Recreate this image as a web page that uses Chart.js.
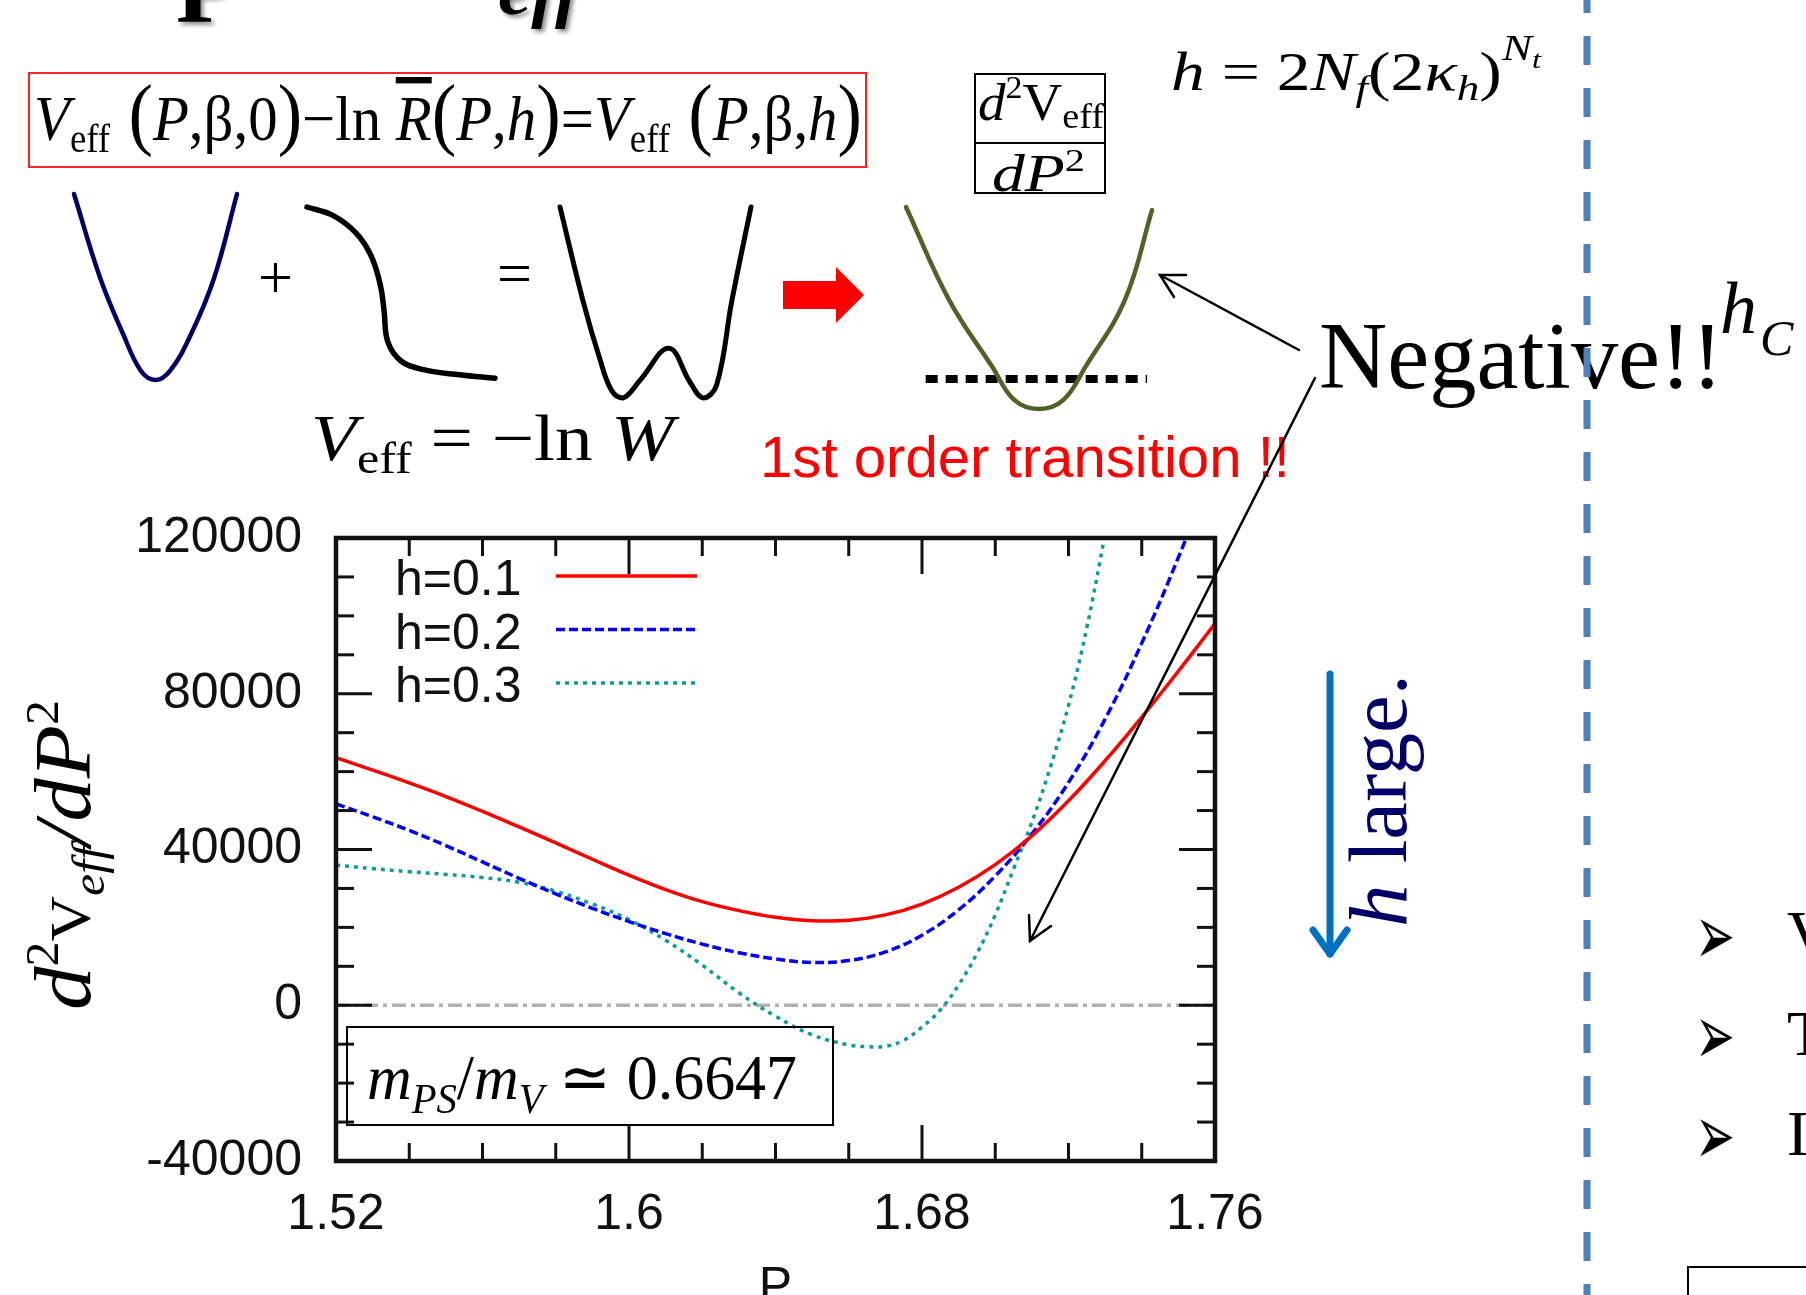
<!DOCTYPE html>
<html>
<head>
<meta charset="utf-8">
<script src="https://cdn.jsdelivr.net/npm/chart.js@4.4.1/dist/chart.umd.min.js"></script>
<style>
  html, body { margin: 0; padding: 0; background: #fff; }
  body { width: 1806px; height: 1295px; overflow: hidden; position: relative; }
  .box { position: absolute; }
  #overlay { position: absolute; left: 0; top: 0; pointer-events: none; }
</style>
</head>
<body>
<div class="box" style="left:0;top:440px;width:1300px;height:900px"><canvas id="mainChart"></canvas></div>
<div class="box"><canvas id="sketchBlue"></canvas></div>
<div class="box"><canvas id="sketchStep"></canvas></div>
<div class="box"><canvas id="sketchDouble"></canvas></div>
<div class="box"><canvas id="sketchGreen"></canvas></div>

<svg id="overlay" xmlns="http://www.w3.org/2000/svg" width="1806" height="1295">
  <defs>
    <filter id="shadow"><feDropShadow dx="3" dy="3" stdDeviation="2" flood-opacity="0.45"/></filter>
  </defs>
  <g font-family="Liberation Serif, Times New Roman, serif" fill="#000">
    <!-- bottom of the slide title -->
    <text x="176" y="22" font-size="96" font-weight="bold" filter="url(#shadow)">P</text>
    <text x="498" y="14" font-size="72" font-weight="bold" font-style="italic" textLength="82" lengthAdjust="spacingAndGlyphs" filter="url(#shadow)">eff</text>

    <!-- boxed relation -->
    <rect x="29" y="73" width="837" height="94" fill="none" stroke="#ff2020" stroke-width="2"/>
    <text x="34" y="140" font-size="64" textLength="828" lengthAdjust="spacingAndGlyphs"><tspan font-style="italic">V</tspan><tspan font-size="40" dy="12">eff</tspan><tspan dy="-12" font-size="80"> (</tspan><tspan font-style="italic">P</tspan><tspan>,β,0</tspan><tspan font-size="80">)</tspan><tspan>−ln </tspan><tspan font-style="italic" style="text-decoration:overline">R</tspan><tspan font-size="80">(</tspan><tspan font-style="italic">P</tspan><tspan>,</tspan><tspan font-style="italic">h</tspan><tspan font-size="80">)</tspan><tspan>=</tspan><tspan font-style="italic">V</tspan><tspan font-size="40" dy="12">eff</tspan><tspan dy="-12" font-size="80"> (</tspan><tspan font-style="italic">P</tspan><tspan>,β,</tspan><tspan font-style="italic">h</tspan><tspan font-size="80">)</tspan></text>

    <text x="258" y="298" font-size="62">+</text>
    <text x="497" y="294" font-size="62">=</text>

    <text x="311" y="460" font-size="66" textLength="363" lengthAdjust="spacingAndGlyphs"><tspan font-style="italic">V</tspan><tspan font-size="44" dy="13">eff</tspan><tspan dy="-13"> = −ln </tspan><tspan font-style="italic">W</tspan></text>

    <!-- red block arrow -->
    <polygon points="783,281 836,281 836,267 864,295 836,323 836,309 783,309" fill="#ff0000"/>

    <!-- fraction box -->
    <rect x="975" y="74" width="130" height="69" fill="none" stroke="#000" stroke-width="2"/>
    <rect x="975" y="143" width="130" height="50" fill="none" stroke="#000" stroke-width="2"/>
    <text x="978" y="120" font-size="52" textLength="126" lengthAdjust="spacingAndGlyphs"><tspan font-style="italic">d</tspan><tspan font-size="32" dy="-22">2</tspan><tspan dy="22">V</tspan><tspan font-size="36" dy="8">eff</tspan></text>
    <text x="992" y="191" font-size="52" textLength="93" lengthAdjust="spacingAndGlyphs"><tspan font-style="italic">dP</tspan><tspan font-size="32" dy="-20">2</tspan></text>

    <text x="1171" y="90" font-size="54" textLength="370" lengthAdjust="spacingAndGlyphs"><tspan font-style="italic">h</tspan><tspan> = 2</tspan><tspan font-style="italic">N</tspan><tspan font-style="italic" font-size="36" dy="10">f</tspan><tspan dy="-10">(2</tspan><tspan font-style="italic">κ</tspan><tspan font-style="italic" font-size="36" dy="10">h</tspan><tspan dy="-10">)</tspan><tspan font-style="italic" font-size="36" dy="-30">N</tspan><tspan font-style="italic" font-size="26" dy="8">t</tspan></text>

    <text x="760" y="477" font-family="Liberation Sans, Arial, sans-serif" font-size="57" fill="#ff0000" textLength="530" lengthAdjust="spacingAndGlyphs">1st order transition !!</text>

    <text x="1319" y="388" font-size="96" textLength="404" lengthAdjust="spacingAndGlyphs">Negative!!</text>
    <text x="1720" y="333" font-size="74" font-style="italic">h</text>
    <text x="1760" y="355" font-size="50" font-style="italic">C</text>

    <!-- pointer arrows -->
    <g stroke="#000" stroke-width="2.5" fill="none" stroke-linecap="round">
      <line x1="1299" y1="350" x2="1160" y2="275"/>
      <polyline points="1174,297 1160,275 1186,275"/>
      <line x1="1315" y1="378" x2="1030" y2="941"/>
      <polyline points="1051,926 1030,941 1029,915"/>
    </g>

    <!-- divider -->
    <line x1="1587" y1="0" x2="1587" y2="1295" stroke="#4f81bd" stroke-width="7" stroke-dasharray="29 23" stroke-dashoffset="16"/>

    <!-- h large arrow -->
    <g stroke="#0070c0" stroke-width="7" fill="none" stroke-linecap="round" stroke-linejoin="round">
      <line x1="1330" y1="674" x2="1330" y2="954"/>
      <polyline points="1313,930 1330,954 1347,930"/>
    </g>
    <text transform="rotate(-90 1406 927)" x="1406" y="927" font-size="83" fill="#000066" textLength="253" lengthAdjust="spacingAndGlyphs"><tspan font-style="italic">h</tspan><tspan> large.</tspan></text>

    <!-- y axis title -->
    <text transform="rotate(-90 90 1010)" x="90" y="1010" font-size="80" textLength="310" lengthAdjust="spacingAndGlyphs"><tspan font-style="italic">d</tspan><tspan font-size="46" dy="-32">2</tspan><tspan font-size="58" dy="32">V</tspan><tspan font-style="italic" font-size="46" dy="14">eff</tspan><tspan font-style="italic" dy="-14">/dP</tspan><tspan font-size="46" dy="-32">2</tspan></text>

    <!-- mass ratio box -->
    <rect x="347" y="1027" width="486" height="98" fill="none" stroke="#000" stroke-width="2"/>
    <text x="367" y="1099" font-size="64" textLength="430" lengthAdjust="spacingAndGlyphs"><tspan font-style="italic">m</tspan><tspan font-style="italic" font-size="42" dy="14">PS</tspan><tspan dy="-14">/</tspan><tspan font-style="italic">m</tspan><tspan font-style="italic" font-size="42" dy="14">V</tspan><tspan dy="-14"> ≃ 0.6647</tspan></text>

    <!-- bullets at the right edge -->
    <g font-family="DejaVu Sans, sans-serif" font-size="84">
      <text x="1695" y="964" textLength="40" lengthAdjust="spacingAndGlyphs">➢</text>
      <text x="1695" y="1064" textLength="40" lengthAdjust="spacingAndGlyphs">➢</text>
      <text x="1695" y="1164" textLength="40" lengthAdjust="spacingAndGlyphs">➢</text>
    </g>
    <text x="1787" y="955" font-size="64">V</text>
    <text x="1787" y="1055" font-size="64">T</text>
    <text x="1787" y="1155" font-size="64">I</text>
    <rect x="1688" y="1267" width="200" height="80" fill="none" stroke="#000" stroke-width="2"/>
  </g>
</svg>

<script>
// P values (x axis) and the curves
const pValues = [1.52, 1.53, 1.54, 1.55, 1.56, 1.57, 1.58, 1.59, 1.60, 1.61, 1.62, 1.63, 1.64,
                 1.65, 1.66, 1.67, 1.68, 1.69, 1.70, 1.71, 1.72, 1.73, 1.74, 1.75, 1.76];
const h01 = [63600, 60400, 57100, 53600, 49800, 45800, 41700, 37500, 33400, 29700, 26600, 24300, 22600,
             21700, 21800, 23200, 26000, 30300, 36100, 43500, 52500, 62800, 74000, 85800, 98000];
const h02 = [51700, 48400, 44900, 41000, 36800, 32600, 28600, 24900, 21500, 18400, 15700, 13500, 11900,
             11000, 11500, 13700, 18000, 24500, 33200, 44000, 57200, 73500, 93000, 115000, 139000];
// h=0.3 is sampled more finely around its dip
const h03P = [1.52, 1.53, 1.54, 1.55, 1.56, 1.57, 1.58, 1.59, 1.60, 1.61, 1.62, 1.63, 1.64, 1.65, 1.66,
              1.665, 1.67, 1.675, 1.68, 1.685, 1.69, 1.695, 1.70, 1.705, 1.71, 1.715, 1.72, 1.725, 1.73, 1.735];
const h03 = [36000, 35100, 34300, 33600, 32800, 31600, 29300, 26000, 22000, 16700, 10300, 3200, -2800, -7600, -10200,
             -10650, -10550, -9000, -5600, -1200, 5200, 13300, 23200, 35000, 47000, 61000, 77000, 97000, 121000, 146000];
const seriesLabels = ['h=0.1', 'h=0.2', 'h=0.3'];
const zeroP = [1.52, 1.76];
const zeroV = [0, 0];

const xTicks = [1.52, 1.6, 1.68, 1.76];
const yTicks = [-40000, 0, 40000, 80000, 120000];
const xMinorStep = 0.02;
const yMinorStep = 10000;

// the little sketches (unit box, y up)
const blueWellX = [0, 0.16, 0.30, 0.41, 0.5, 0.59, 0.72, 0.86, 1];
const blueWellY = [1, 0.55, 0.25, 0.05, 0, 0.05, 0.25, 0.55, 1];
const stepX = [0, 0.14, 0.26, 0.34, 0.39, 0.41, 0.43, 0.5, 0.62, 0.81, 1];
const stepY = [1, 0.95, 0.85, 0.72, 0.55, 0.40, 0.22, 0.11, 0.06, 0.03, 0.01];
const doubleX = [0, 0.12, 0.21, 0.27, 0.33, 0.42, 0.57, 0.68, 0.75, 0.82, 0.9, 1];
const doubleY = [1, 0.51, 0.20, 0.04, 0, 0.094, 0.26, 0.084, 0, 0.068, 0.51, 1];
const greenX = [0, 0.175, 0.35, 0.44, 0.54, 0.64, 0.73, 0.89, 1];
const greenY = [1, 0.54, 0.21, 0.045, 0, 0.045, 0.21, 0.54, 0.985];
const levelX = [0.08, 0.98];
const levelY = [0.149, 0.149];

const ink = '#111';
const sansFont = { family: '"Liberation Sans", Arial, sans-serif', size: 50 };

function toPoints(xs, ys) {
  return ys.map((y, i) => ({ x: xs[i], y: y }));
}

// gnuplot-like frame: inward ticks on all four sides + legend with samples on the right
const gnuFrame = {
  id: 'gnuFrame',
  afterDatasetsDraw(chart) {
    const { ctx, chartArea: a, scales: { x, y } } = chart;
    ctx.save();
    ctx.strokeStyle = ink;
    ctx.lineWidth = 3;
    ctx.setLineDash([]);
    const seg = (x1, y1, x2, y2) => { ctx.beginPath(); ctx.moveTo(x1, y1); ctx.lineTo(x2, y2); ctx.stroke(); };

    for (let i = 0; i <= 16; i++) {
      const v = -40000 + i * yMinorStep;
      const py = y.getPixelForValue(v);
      const len = i % 4 === 0 ? 36 : 18;
      seg(a.left, py, a.left + len, py);
      seg(a.right - len, py, a.right, py);
    }
    for (let i = 0; i <= 12; i++) {
      const v = 1.52 + i * xMinorStep;
      const px = x.getPixelForValue(v);
      const len = i % 4 === 0 ? 36 : 18;
      seg(px, a.bottom, px, a.bottom - len);
      seg(px, a.top, px, a.top + len);
    }
    ctx.lineWidth = 4.5;
    ctx.strokeRect(a.left, a.top, a.right - a.left, a.bottom - a.top);

    // legend
    ctx.font = '50px "Liberation Sans", Arial, sans-serif';
    ctx.fillStyle = ink;
    ctx.textBaseline = 'alphabetic';
    ctx.textAlign = 'left';
    seriesLabels.forEach((lab, i) => {
      const ds = chart.data.datasets[i];
      const base = a.top + 57 + i * 53.5;
      ctx.fillText(lab, a.left + 59, base);
      ctx.strokeStyle = ds.borderColor;
      ctx.lineWidth = ds.borderWidth;
      ctx.setLineDash(ds.borderDash || []);
      seg(a.left + 220, base - 19, a.left + 361, base - 19);
    });
    ctx.restore();
  }
};

new Chart(document.getElementById('mainChart'), {
  type: 'line',
  data: {
    datasets: [
      { label: seriesLabels[0], data: toPoints(pValues, h01), borderColor: '#ff0000', borderWidth: 3.5,
        pointRadius: 0, fill: false, tension: 0.4 },
      { label: seriesLabels[1], data: toPoints(pValues, h02), borderColor: '#0000ff', borderWidth: 3.5,
        borderDash: [9, 4], pointRadius: 0, fill: false, tension: 0.4 },
      { label: seriesLabels[2], data: toPoints(h03P, h03), borderColor: '#109a9a', borderWidth: 3.5,
        borderDash: [4, 5], pointRadius: 0, fill: false, tension: 0.4 },
      { label: 'zero', data: toPoints(zeroP, zeroV), borderColor: '#b0b0b0', borderWidth: 3.5,
        borderDash: [14, 5, 4, 5], pointRadius: 0, fill: false }
    ]
  },
  options: {
    responsive: true,
    maintainAspectRatio: false,
    animation: false,
    events: [],
    layout: { padding: { top: 98, right: 85, left: 0, bottom: 0 } },
    plugins: { legend: { display: false }, tooltip: { enabled: false } },
    scales: {
      x: {
        type: 'linear', min: 1.52, max: 1.76,
        afterBuildTicks: s => { s.ticks = xTicks.map(v => ({ value: v })); },
        afterFit: s => { s.height = 179; },
        grid: { display: false, drawTicks: false },
        border: { display: false },
        ticks: { font: sansFont, color: ink, padding: 24, maxRotation: 0, autoSkip: false,
                 callback: v => String(+v.toFixed(2)) },
        title: { display: true, text: 'P', font: sansFont, color: ink, padding: { top: 0, bottom: 22 } }
      },
      y: {
        type: 'linear', min: -40000, max: 120000,
        afterBuildTicks: s => { s.ticks = yTicks.map(v => ({ value: v })); },
        afterFit: s => { s.width = 336; },
        grid: { display: false, drawTicks: false },
        border: { display: false },
        ticks: { font: sansFont, color: ink, padding: 34, autoSkip: false, callback: v => String(v) }
      }
    }
  },
  plugins: [gnuFrame]
});

function sketch(id, box, sets) {
  const pad = 8;
  const canvas = document.getElementById(id);
  Object.assign(canvas.parentNode.style, {
    left: (box.x - pad) + 'px', top: (box.y - pad) + 'px',
    width: (box.w + 2 * pad) + 'px', height: (box.h + 2 * pad) + 'px'
  });
  new Chart(canvas, {
    type: 'scatter',
    data: {
      datasets: sets.map(s => ({
        data: toPoints(s.xs, s.ys), showLine: true, borderColor: s.color, borderWidth: s.width,
        borderDash: s.dash || [], borderCapStyle: s.dash ? 'butt' : 'round', pointRadius: 0,
        tension: s.dash ? 0 : 0.4, clip: false
      }))
    },
    options: {
      responsive: true, maintainAspectRatio: false, animation: false, events: [],
      layout: { padding: pad },
      plugins: { legend: { display: false }, tooltip: { enabled: false } },
      scales: {
        x: { type: 'linear', display: false, min: 0, max: 1 },
        y: { type: 'linear', display: false, min: 0, max: 1 }
      }
    }
  });
}

sketch('sketchBlue', { x: 74, y: 194, w: 163, h: 186 },
  [{ xs: blueWellX, ys: blueWellY, color: '#000066', width: 4.5 }]);
sketch('sketchStep', { x: 307, y: 207, w: 188, h: 173 },
  [{ xs: stepX, ys: stepY, color: '#000', width: 5.5 }]);
sketch('sketchDouble', { x: 560, y: 207, w: 191, h: 191 },
  [{ xs: doubleX, ys: doubleY, color: '#000', width: 5 }]);
sketch('sketchGreen', { x: 906, y: 207, w: 246, h: 202 },
  [{ xs: greenX, ys: greenY, color: '#4f6228', width: 4.5 },
   { xs: levelX, ys: levelY, color: '#000', width: 8, dash: [12, 8] }]);
</script>
</body>
</html>
